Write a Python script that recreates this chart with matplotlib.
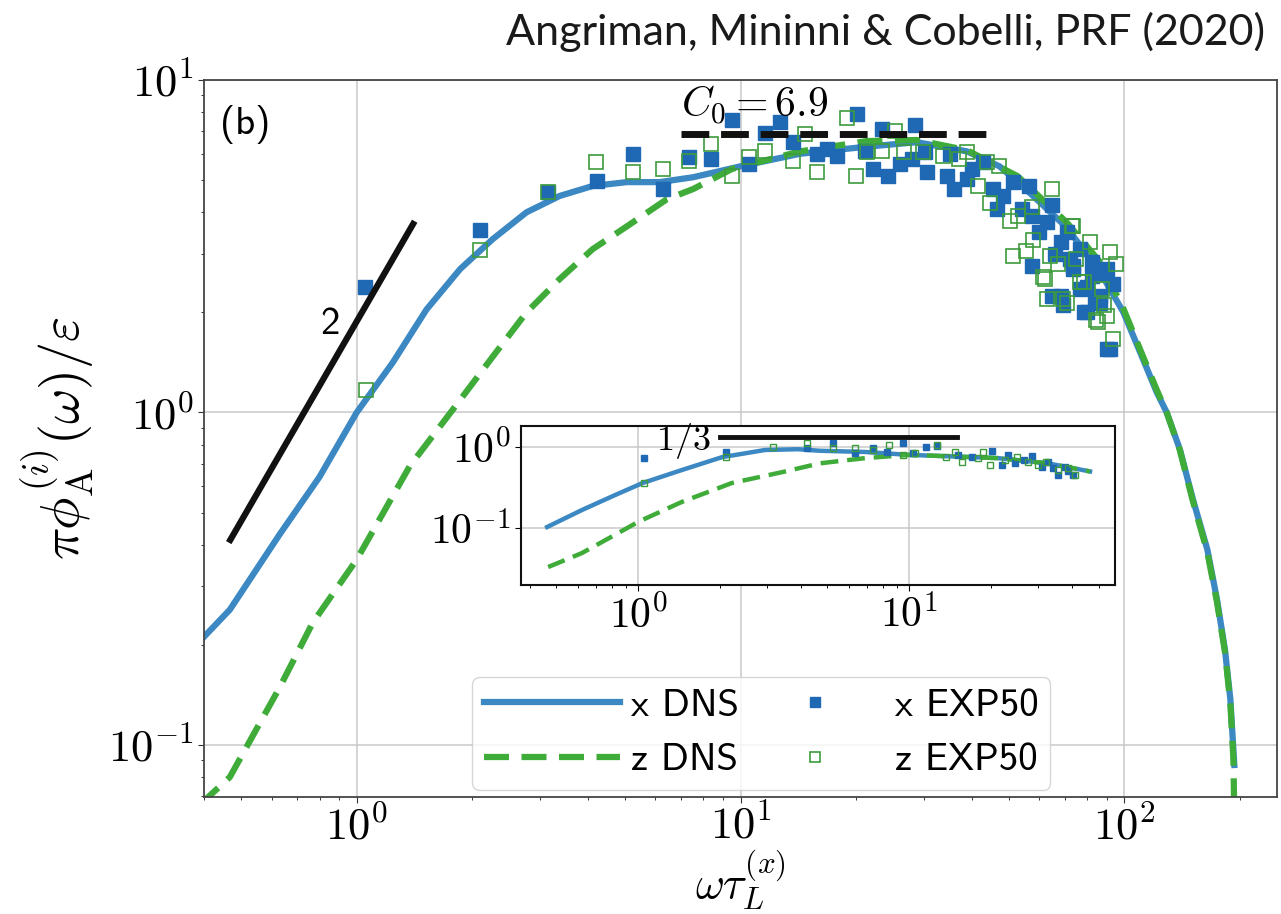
import numpy as np
import matplotlib
matplotlib.use('Agg')
import matplotlib.pyplot as plt
from matplotlib.lines import Line2D
from matplotlib.ticker import FuncFormatter, NullFormatter

plt.rcParams['mathtext.fontset'] = 'cm'
plt.rcParams['font.family'] = ['cmss10', 'DejaVu Sans']
plt.rcParams['axes.unicode_minus'] = False

# DNS spectra (main panel)
x_dns_x = [0.39, 0.467, 0.63, 0.80, 1.0, 1.24, 1.52, 1.86, 2.26, 2.77, 3.38, 4.12, 5.06, 6.16,
           7.53, 10.0, 14.3, 21.3, 28.8, 38.9, 47.3, 57.6, 70.8, 86.6, 99.5, 109.9, 121.5, 129,
           139.6, 151, 164.6, 174.5, 183, 189, 193.5]
y_dns_x = [0.205, 0.255, 0.43, 0.64, 1.0, 1.41, 2.04, 2.70, 3.32, 4.0, 4.48, 4.80, 4.93, 4.93,
           5.1, 5.5, 6.0, 6.3, 6.5, 6.1, 5.5, 4.5, 3.6, 2.64, 2.0, 1.52, 1.15, 1.0,
           0.774, 0.547, 0.387, 0.273, 0.193, 0.137, 0.087]
x_dns_z = [0.39, 0.467, 0.63, 0.768, 1.0, 1.375, 1.78, 2.26, 2.77, 3.38, 4.12, 5.06, 6.43, 7.53,
           9.5, 14.3, 21.3, 28.8, 38.9, 52.7, 70.8, 86.6, 99.5, 109.9, 121.5, 129, 139.6, 151,
           164.6, 174.5, 183, 189, 192.5, 194]
y_dns_z = [0.066, 0.080, 0.149, 0.233, 0.361, 0.69, 1.02, 1.47, 2.0, 2.52, 3.1, 3.63, 4.38, 4.7,
           5.4, 6.1, 6.55, 6.6, 6.15, 5.14, 3.73, 2.83, 2.05, 1.55, 1.17, 1.0, 0.77, 0.54,
           0.38, 0.268, 0.19, 0.133, 0.09, 0.05]

# experimental points (main panel)
x_exp_x = [1.05, 2.09, 3.15, 4.22, 5.24, 6.28, 7.36, 8.4, 9.5, 10.5, 11.6, 12.7, 13.7, 15.8, 16.8,
           17.8, 20.1, 21.1, 22.2, 23.4, 24.3, 26.0, 28.0, 28.5, 30.3, 30.6, 34.5, 35.2, 35.9,
           38.9, 40.0, 42.8, 45.5, 46.5, 48.2, 51.2, 56.6, 57.6, 62.8, 65.0, 68.3, 70.8, 73.5,
           76.5, 80.0, 82.5, 86.6, 90.3, 57.6, 68.3, 78.4, 65.0, 69.3, 80.0, 90.3, 93.5, 92.0,
           86.6, 73.5, 76.5, 82.5, 60.0, 54.0, 66.0, 72.0, 84.0, 88.0]
y_exp_x = [2.39, 3.53, 4.6, 4.96, 6.0, 4.69, 5.86, 5.78, 7.6, 5.6, 6.93, 7.48, 6.5, 6.0, 6.2,
           5.9, 7.9, 6.1, 5.4, 7.1, 5.14, 5.6, 5.78, 7.3, 6.06, 5.3, 5.14, 6.0, 4.69,
           5.03, 5.4, 5.65, 4.69, 4.08, 4.48, 4.93, 4.79, 3.9, 3.73, 4.2, 3.25, 3.48, 2.76,
           3.1, 2.39, 2.83, 2.24, 1.55, 2.76, 2.24, 2.0, 2.24, 2.11, 2.0, 2.7, 2.43, 1.55,
           2.14, 2.7, 2.35, 2.57, 3.5, 4.1, 3.0, 2.9, 2.2, 2.6]
x_exp_z = [1.055, 2.10, 3.15, 4.2, 5.24, 6.28, 7.36, 8.4, 9.5, 10.5, 11.6, 13.7, 14.7, 15.8, 18.9,
           20.0, 21.3, 23.4, 25.3, 26.6, 29.9, 33.7, 37.2, 38.9, 41.5, 43.9, 44.7, 47.3, 50.4,
           51.2, 55.5, 57.6, 61.5, 62.8, 65.0, 69.3, 72.9, 76.5, 81.4, 84.6, 73.5, 92.0, 90.3,
           85.5, 93.5, 62.3, 70.8, 78.4, 64.0, 87.6, 58.0, 67.0, 75.0, 88.5, 95.0, 53.0]
y_exp_z = [1.165, 3.07, 4.6, 5.66, 5.28, 5.4, 5.7, 6.4, 5.14, 5.86, 6.1, 5.7, 6.87, 5.3, 7.67,
           5.14, 6.06, 6.1, 7.0, 6.06, 6.06, 5.9, 5.78, 6.06, 4.79, 5.65, 4.28, 5.5, 3.76,
           2.95, 3.06, 4.14, 2.55, 2.19, 4.69, 2.19, 3.63, 2.46, 3.25, 1.9, 3.63, 3.03, 1.95,
           1.87, 1.66, 2.52, 2.14, 2.46, 2.95, 2.35, 3.3, 2.8, 2.9, 2.1, 2.8, 3.9]

# guides
slope_x = [0.464, 1.416]
slope_y = [0.406, 3.76]
c0_x = [7.0, 45.3]
c0_val = 6.9

# inset: compensated spectra
ix_dns_x = [0.462, 0.621, 0.822, 1.04, 1.45, 2.04, 2.94, 3.89, 4.69, 6.88, 10.0, 13.9, 21.3, 32.5, 46.5]
iy_dns_x = [0.103, 0.167, 0.255, 0.36, 0.52, 0.75, 0.92, 0.94, 0.9, 0.87, 0.80, 0.77, 0.73, 0.63, 0.50]
ix_dns_z = [0.466, 0.62, 0.82, 1.0, 1.45, 2.22, 3.4, 4.69, 6.88, 10.0, 13.9, 21.3, 32.5, 46.5]
iy_dns_z = [0.033, 0.049, 0.082, 0.119, 0.21, 0.36, 0.49, 0.63, 0.73, 0.80, 0.77, 0.73, 0.63, 0.50]
ix_exp_x = [1.05, 2.11, 4.2, 5.24, 6.3, 7.36, 8.3, 9.5, 10.3, 11.5, 12.7, 15.1, 17.0, 20.2, 22.0,
            23.2, 24.6, 28.4, 30.9, 32.5, 35.3, 37.6, 40.2, 26.5, 34.0, 38.5]
iy_exp_x = [0.73, 0.87, 0.97, 1.12, 0.84, 0.97, 0.87, 1.12, 0.84, 1.0, 1.03, 0.8, 0.75, 0.89, 0.6,
            0.8, 0.63, 0.77, 0.57, 0.65, 0.45, 0.57, 0.45, 0.7, 0.55, 0.5]
ix_exp_z = [1.05, 2.11, 3.15, 4.2, 5.24, 6.3, 7.36, 8.4, 9.5, 10.5, 12.7, 13.7, 14.8, 15.7, 18.0,
            18.8, 19.9, 25.0, 27.5, 29.9, 32.0, 35.3, 38.6, 41.0, 22.5]
iy_exp_z = [0.36, 0.75, 1.0, 1.12, 0.97, 0.97, 0.92, 1.05, 0.8, 0.85, 1.06, 0.75, 0.87, 0.65, 0.73,
            0.87, 0.6, 0.75, 0.65, 0.6, 0.65, 0.52, 0.55, 0.45, 0.7]
i_third_x = [2.0, 15.0]
i_third_y = 1.33

c_line_x = '#3b88c3'
c_line_z = '#3fac3a'
c_pt_x = '#1f68b3'
c_pt_z = '#3d9b3d'
grid_c = '#c9c9c9'

# power-of-ten labels drawn in Computer Modern
pow10 = FuncFormatter(lambda v, p: r'$10^{%d}$' % int(round(np.log10(v))))

fig = plt.figure(figsize=(12.81, 9.14), dpi=100)
ax = fig.add_axes([204/1281, 117/914, 1073/1281, 717/914])

ax.plot(x_dns_x, y_dns_x, '-', color=c_line_x, lw=4.5, zorder=2)
ax.plot(x_dns_z, y_dns_z, color=c_line_z, lw=4.5, ls=(0, (4, 2)), zorder=2)
ax.plot(x_exp_x, y_exp_x, 's', color=c_pt_x, ms=9.5, ls='none', zorder=3)
ax.plot(x_exp_z, y_exp_z, 's', mfc='none', mec=c_pt_z, mew=1.2, ms=9.5, ls='none', zorder=3)
ax.plot(slope_x, slope_y, color='#111111', lw=4.5, solid_capstyle='butt', zorder=4)
ax.plot(c0_x, [c0_val, c0_val], color='#111111', lw=5, ls=(0, (4, 1.7)), zorder=4)

ax.text(0.85, 1.84, '2', fontsize=28, ha='center', va='center', zorder=5)
ax.text(7.0, 7.7, r'$C_0 = 6.9$', fontsize=30, ha='left', va='baseline', zorder=5)
ax.text(0.015, 0.965, '(b)', transform=ax.transAxes, fontsize=28, ha='left', va='top')

ax.set_xscale('log')
ax.set_yscale('log')
ax.set_xlim(0.4, 250)
ax.set_ylim(0.0697, 10)
ax.xaxis.set_major_formatter(pow10)
ax.yaxis.set_major_formatter(pow10)
ax.xaxis.set_minor_formatter(NullFormatter())
ax.yaxis.set_minor_formatter(NullFormatter())
ax.grid(True, which='major', color=grid_c, lw=1.1)
ax.set_axisbelow(True)
ax.tick_params(which='major', labelsize=32, length=4, width=0.8, direction='out', color='#333333')
ax.tick_params(axis='x', which='major', pad=2)
ax.tick_params(which='minor', length=2.5, width=0.7, direction='out', color='#333333')
for s in ax.spines.values():
    s.set_color('#444444')
    s.set_linewidth(1.3)
ax.set_xlabel(r'$\omega\tau_L^{(x)}$', fontsize=32)
ax.xaxis.set_label_coords(0.5, -0.072)
ax.set_ylabel(r'$\pi\phi_{\mathrm{A}}^{(i)}(\omega)/\varepsilon$', fontsize=39, labelpad=8)

handles = [
    Line2D([], [], color=c_line_x, lw=4.5),
    Line2D([], [], color=c_line_z, lw=4.5, ls=(0, (4, 2))),
    Line2D([], [], marker='s', color=c_pt_x, ms=7, ls='none'),
    Line2D([], [], marker='s', mfc='none', mec=c_pt_z, mew=1.2, ms=7, ls='none'),
]
labels = ['x DNS', 'z DNS', 'x EXP50', 'z EXP50']
leg = ax.legend(handles, labels, ncol=2, fontsize=28, loc='lower left',
                bbox_to_anchor=((472-204)/1073, (797-790)/717), borderaxespad=0,
                handlelength=3.5, handletextpad=0.3, columnspacing=0.2,
                framealpha=0.8, edgecolor='#cccccc', fancybox=True, borderpad=0.3)

# inset
axi = fig.add_axes([521/1281, (914-585)/914, 594/1281, 159/914])
axi.plot(ix_dns_x, iy_dns_x, '-', color=c_line_x, lw=3.2, zorder=2)
axi.plot(ix_dns_z, iy_dns_z, color=c_line_z, lw=3.2, ls=(0, (4, 2)), zorder=2)
axi.plot(ix_exp_x, iy_exp_x, 's', color=c_pt_x, ms=4.5, ls='none', zorder=3)
axi.plot(ix_exp_z, iy_exp_z, 's', mfc='none', mec=c_pt_z, mew=1, ms=4.5, ls='none', zorder=3)
axi.plot(i_third_x, [i_third_y, i_third_y], color='#111111', lw=3.5, zorder=4)
axi.text(1.85, 1.18, r'$1/3$', fontsize=26, ha='right', va='center', zorder=5)
axi.set_xscale('log')
axi.set_yscale('log')
axi.set_xlim(0.37, 57.5)
axi.set_ylim(0.0198, 1.82)
axi.set_yticks([0.1, 1.0])
axi.xaxis.set_major_formatter(pow10)
axi.yaxis.set_major_formatter(pow10)
axi.xaxis.set_minor_formatter(NullFormatter())
axi.yaxis.set_minor_formatter(NullFormatter())
axi.grid(True, which='major', color=grid_c, lw=1.1)
axi.set_axisbelow(True)
axi.tick_params(which='major', labelsize=30, length=4, width=0.8)
axi.tick_params(axis='y', which='minor', left=False)
axi.tick_params(axis='x', which='minor', length=2.5, width=0.7)
for s in axi.spines.values():
    s.set_color('#111111')
    s.set_linewidth(1.5)

fig.text(0.9875, 0.951, 'Angriman, Mininni & Cobelli, PRF (2020)', fontsize=31,
         family='Lato', ha='right', va='baseline', color='#1a1a1a')

fig.savefig('out.png', dpi=100)
